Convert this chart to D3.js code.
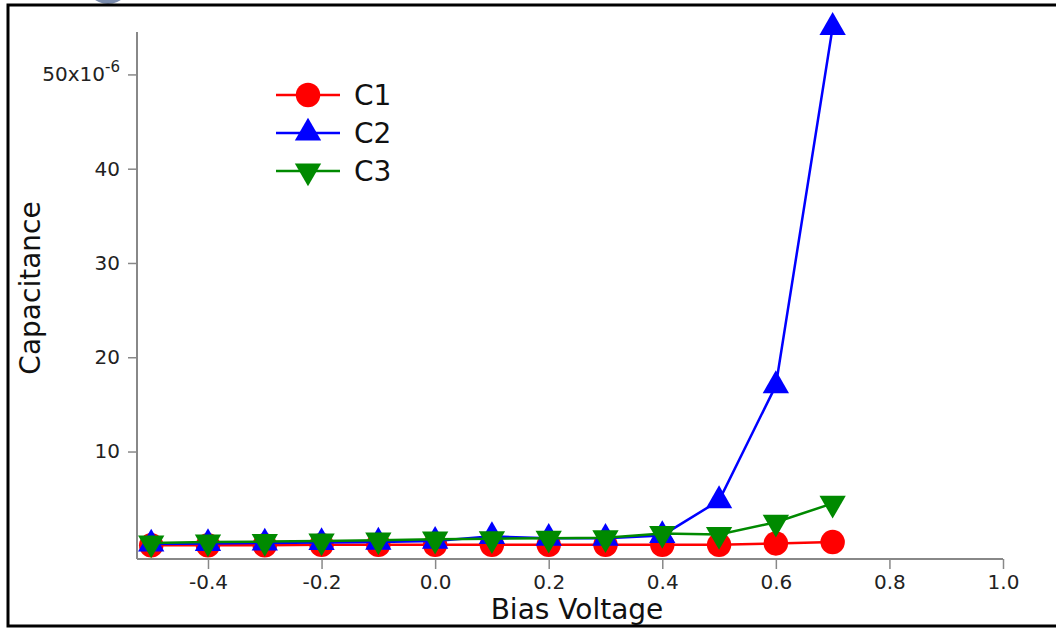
<!DOCTYPE html>
<html>
<head>
<meta charset="utf-8">
<script src="https://cdn.jsdelivr.net/npm/d3@7"></script>
<style>
    body { margin: 0; background: #fff; }
    svg { display: block; font-family: 'DejaVu Sans', sans-serif; }
</style>
</head>
<body>
<div id="content"></div>
<script>
'use strict';

var voltages = [-0.5, -0.4, -0.3, -0.2, -0.1, 0.0, 0.1, 0.2, 0.3, 0.4, 0.5, 0.6, 0.7];
var c1Values = [0.05, 0.05, 0.05, 0.1, 0.1, 0.1, 0.1, 0.1, 0.1, 0.1, 0.1, 0.25, 0.4];
var c2Values = [0.2, 0.25, 0.3, 0.35, 0.4, 0.5, 1.0, 0.8, 0.8, 1.1, 4.8, 17.0, 55.0];
var c3Values = [0.3, 0.4, 0.45, 0.5, 0.6, 0.7, 0.75, 0.8, 0.85, 1.3, 1.2, 2.5, 4.5];
var seriesNames = ['C1', 'C2', 'C3'];
var xTicks = [-0.4, -0.2, 0.0, 0.2, 0.4, 0.6, 0.8, 1.0];
var yTicks = [10, 20, 30, 40, 50];

var colors = { C1: '#ff0000', C2: '#0000ff', C3: '#008a00' };
var symbols = { C1: 'circle', C2: 'up', C3: 'down' };

function markerPath(kind) {
    if (kind === 'circle') return d3.symbol(d3.symbolCircle, 470)();
    return d3.symbol(d3.symbolTriangle, 300)();
}

function run() {
    var width = 1056, height = 629;
    var svg = d3.select('#content').append('svg')
        .attr('width', width)
        .attr('height', height);

    // bit of a cropped logo peeking in at the top
    svg.append('ellipse')
        .attr('cx', 108).attr('cy', -22)
        .attr('rx', 24).attr('ry', 26)
        .style('fill', '#7a8cae');
    svg.append('ellipse')
        .attr('cx', 108).attr('cy', -26)
        .attr('rx', 19).attr('ry', 25)
        .style('fill', '#dde3ee');

    // frame
    svg.append('path')
        .attr('d', 'M1060,5H8V626H1060')
        .style('fill', 'none')
        .style('stroke', '#000')
        .style('stroke-width', 3);

    var x = d3.scaleLinear().domain([-0.525, 1.0]).range([137, 1003]);
    var y = d3.scaleLinear().domain([-1.4, 54.5]).range([559, 32]);

    var xAxis = svg.append('g')
        .attr('transform', 'translate(0 559)')
        .call(d3.axisBottom(x)
            .tickValues(xTicks)
            .tickSize(10)
            .tickPadding(6)
            .tickFormat(function (d) { return d3.format('.1f')(d).replace('\u2212', '-'); }));

    var yAxis = svg.append('g')
        .attr('transform', 'translate(137 0)')
        .call(d3.axisLeft(y)
            .tickValues(yTicks)
            .tickSize(9)
            .tickPadding(8)
            .tickFormat(function (d) { return d === 50 ? '' : d; }));

    [xAxis, yAxis].forEach(function (a) {
        a.select('.domain').attr('d', null);
        a.selectAll('line').style('stroke', '#888').style('stroke-width', 1.5);
        a.selectAll('text')
            .style('font-family', "'DejaVu Sans', sans-serif")
            .style('font-size', '20px')
            .style('fill', '#222');
    });

    // axis lines without end caps
    svg.append('line')
        .attr('x1', x.range()[0]).attr('x2', x.range()[1])
        .attr('y1', 559).attr('y2', 559)
        .style('stroke', '#888').style('stroke-width', 2);
    svg.append('line')
        .attr('x1', 137).attr('x2', 137)
        .attr('y1', y.range()[0]).attr('y2', y.range()[1])
        .style('stroke', '#888').style('stroke-width', 2);

    // 50x10^-6 label with superscript
    var top = yAxis.selectAll('.tick').filter(function (d) { return d === 50; }).select('text');
    top.text(null);
    top.append('tspan').text('50x10');
    top.append('tspan').attr('dy', '-0.6em').style('font-size', '15px').text('-6');

    var series = [
        { key: 'C1', values: c1Values },
        { key: 'C2', values: c2Values },
        { key: 'C3', values: c3Values }
    ];

    var line = d3.line()
        .x(function (d, i) { return x(voltages[i]); })
        .y(function (d) { return y(d); });

    var layer = svg.selectAll('.layer')
        .data(series)
        .enter()
        .append('g')
        .attr('class', 'layer');

    layer.append('path')
        .attr('d', function (d) { return line(d.values); })
        .style('fill', 'none')
        .style('stroke', function (d) { return colors[d.key]; })
        .style('stroke-width', 2.5);

    layer.each(function (s) {
        d3.select(this).selectAll('.marker')
            .data(s.values)
            .enter()
            .append('path')
            .attr('class', 'marker')
            .attr('d', markerPath(symbols[s.key]))
            .attr('transform', function (d, i) {
                var t = 'translate(' + x(voltages[i]) + ' ' + y(d) + ')';
                return symbols[s.key] === 'down' ? t + ' rotate(180)' : t;
            })
            .style('fill', colors[s.key]);
    });

    // legend
    var legend = svg.append('g');
    seriesNames.forEach(function (name, i) {
        var ly = 95 + i * 38;
        legend.append('line')
            .attr('x1', 276).attr('x2', 340)
            .attr('y1', ly).attr('y2', ly)
            .style('stroke', colors[name])
            .style('stroke-width', 2.5);
        legend.append('path')
            .attr('d', markerPath(symbols[name]))
            .attr('transform', 'translate(308 ' + ly + ')' + (symbols[name] === 'down' ? ' rotate(180)' : ''))
            .style('fill', colors[name]);
        legend.append('text')
            .attr('x', 354)
            .attr('y', ly + 10)
            .style('font-size', '28px')
            .style('fill', '#111')
            .text(name);
    });

    // axis titles
    svg.append('text')
        .attr('x', 577)
        .attr('y', 619)
        .attr('text-anchor', 'middle')
        .style('font-size', '28px')
        .style('fill', '#111')
        .text('Bias Voltage');

    svg.append('text')
        .attr('transform', 'translate(40 288) rotate(-90)')
        .attr('text-anchor', 'middle')
        .style('font-size', '28px')
        .style('fill', '#111')
        .text('Capacitance');
}

document.addEventListener('DOMContentLoaded', run);
</script>
</body>
</html>
